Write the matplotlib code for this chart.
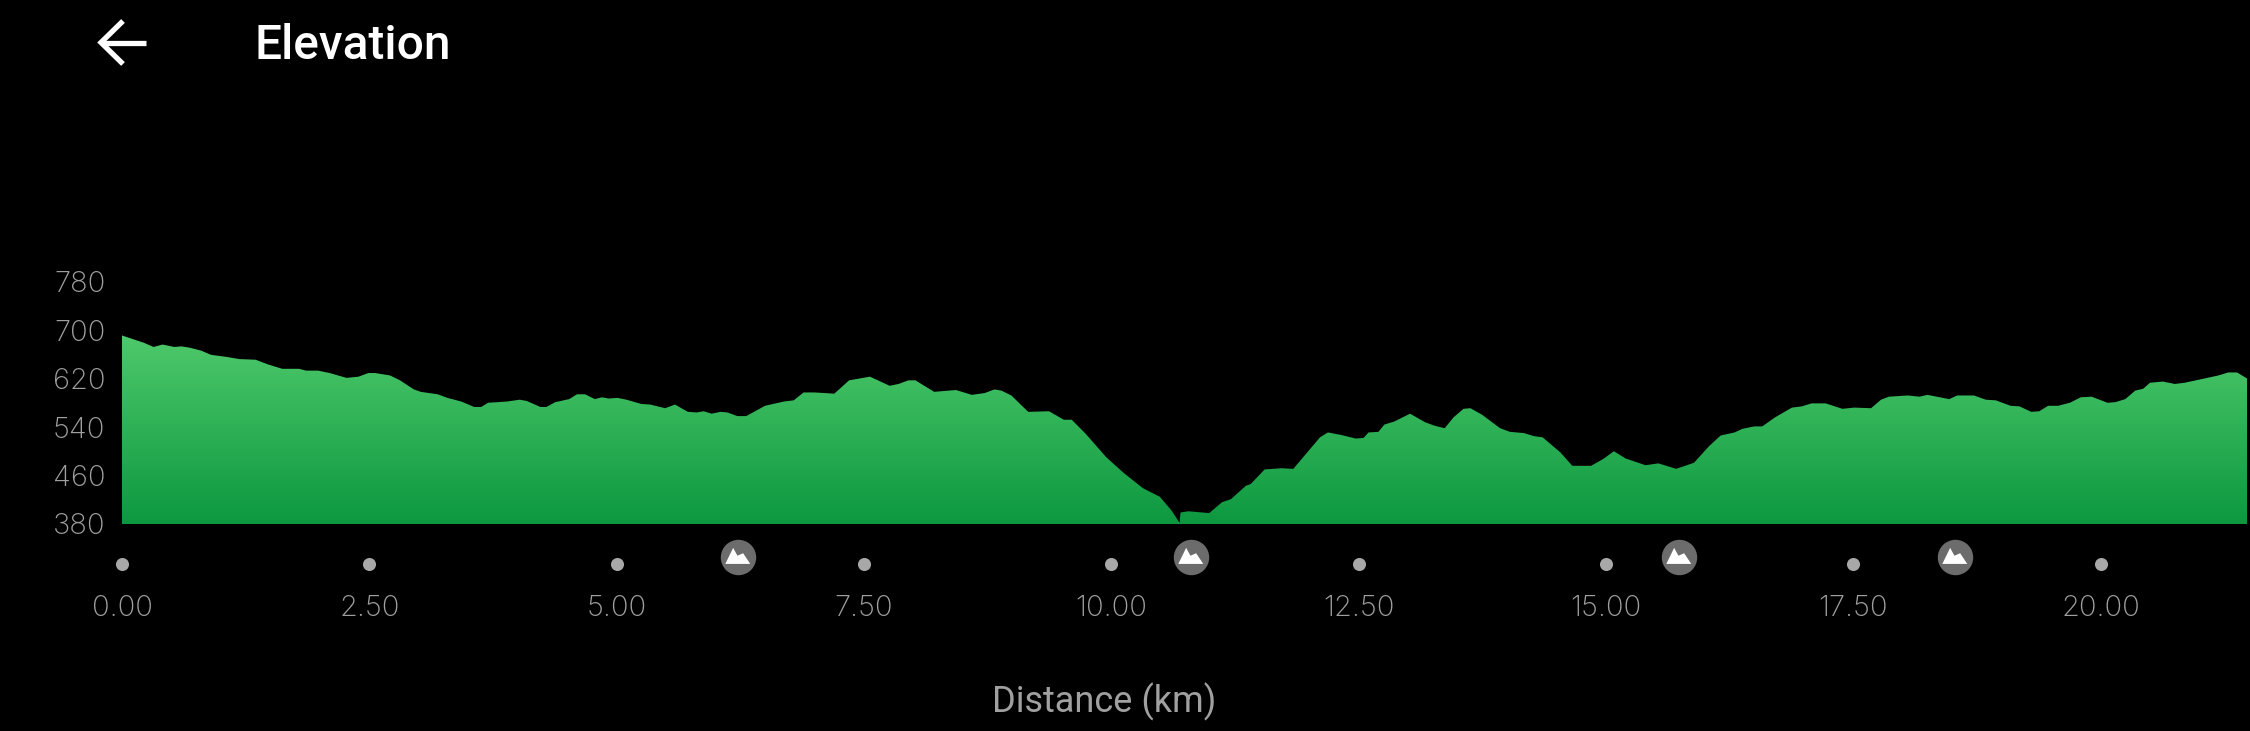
import numpy as np
import matplotlib
matplotlib.use("Agg")
import matplotlib.pyplot as plt
from matplotlib.colors import LinearSegmentedColormap
from matplotlib.lines import Line2D
from matplotlib.path import Path
from matplotlib.transforms import blended_transform_factory

# profile
distance_km = [
    0.00, 0.22, 0.32, 0.41, 0.53, 0.60, 0.68, 0.80, 0.90, 1.04, 1.19, 1.35, 1.48, 1.62, 1.79, 1.86,
    1.98, 2.10, 2.27, 2.39, 2.49, 2.56, 2.71, 2.81, 2.95, 3.02, 3.19, 3.29, 3.43, 3.56, 3.63, 3.70,
    3.89, 4.02, 4.09, 4.23, 4.29, 4.38, 4.52, 4.60, 4.68, 4.78, 4.85, 4.92, 5.01, 5.10, 5.25, 5.34,
    5.49, 5.59, 5.72, 5.81, 5.88, 5.96, 6.05, 6.12, 6.22, 6.31, 6.50, 6.69, 6.79, 6.89, 7.00, 7.20,
    7.35, 7.56, 7.76, 7.85, 7.95, 8.02, 8.21, 8.43, 8.59, 8.72, 8.82, 8.89, 8.99, 9.16, 9.37, 9.52,
    9.60, 9.74, 9.95, 10.12, 10.32, 10.49, 10.61, 10.69, 10.70, 10.78, 10.99, 11.12, 11.21, 11.36,
    11.41, 11.55, 11.72, 11.84, 12.11, 12.19, 12.32, 12.47, 12.55, 12.60, 12.70, 12.76, 12.86, 13.02,
    13.17, 13.27, 13.37, 13.46, 13.56, 13.63, 13.75, 13.93, 14.03, 14.17, 14.27, 14.36, 14.54, 14.66,
    14.85, 14.97, 15.08, 15.20, 15.40, 15.53, 15.71, 15.89, 16.04, 16.16, 16.30, 16.38, 16.50, 16.58,
    16.71, 16.88, 16.98, 17.08, 17.22, 17.39, 17.51, 17.68, 17.78, 17.86, 18.05, 18.17, 18.25, 18.47,
    18.55, 18.72, 18.84, 18.94, 19.09, 19.18, 19.30, 19.38, 19.47, 19.57, 19.69, 19.80, 19.91, 20.07,
    20.15, 20.25, 20.35, 20.43, 20.50, 20.63, 20.75, 20.85, 21.05, 21.19, 21.29, 21.38, 21.48,
]
elevation_m = [
    691, 679, 672, 676, 672, 673, 671, 666, 659, 656, 652, 651, 643, 636, 636, 633,
    633, 629, 621, 623, 629, 629, 625, 617, 602, 598, 594, 588, 582, 573, 573, 580,
    582, 585, 583, 573, 573, 581, 586, 594, 594, 586, 589, 587, 588, 585, 578, 577,
    571, 577, 565, 564, 566, 562, 565, 564, 558, 558, 575, 582, 584, 597, 597, 595,
    617, 623, 608, 611, 617, 617, 598, 601, 593, 596, 602, 600, 592, 565, 566, 552,
    552, 529, 490, 465, 439, 425, 402, 382, 399, 401, 398, 416, 421, 443,
    446, 470, 472, 471, 523, 531, 527, 521, 522, 531, 532, 544, 549, 562,
    548, 542, 538, 556, 570, 571, 560, 538, 532, 530, 525, 523, 498, 476,
    476, 487, 500, 488, 477, 480, 471, 481, 508, 526, 531, 537, 541, 541,
    556, 572, 574, 579, 579, 570, 572, 571, 585, 590, 592, 590, 593, 586,
    592, 592, 585, 584, 575, 574, 565, 566, 575, 575, 580, 589, 590, 580,
    581, 586, 600, 603, 613, 615, 611, 613, 620, 625, 630, 630, 620,
]
x_ticks = [0.0, 2.5, 5.0, 7.5, 10.0, 12.5, 15.0, 17.5, 20.0]
y_ticks = [380, 460, 540, 620, 700, 780]
peak_km = [6.23, 10.81, 15.74, 18.53]

W, H = 2250, 731
GREY = "#a0a0a0"
NUM_FONT = "Inter"
BASE = 524.0

fig = plt.figure(figsize=(W / 100, H / 100), dpi=100, facecolor="black")
ax = fig.add_axes([122 / W, (H - BASE) / H, 2125 / W, 242.5 / H], facecolor="black")
ax.set_xlim(0, 21.48)
ax.set_ylim(380, 780)

# gradient fill, clipped to the profile
area = ax.fill_between(distance_km, elevation_m, 380, color="none", linewidth=0)
green = LinearSegmentedColormap.from_list("g", ["#4ec96b", "#0d9840"])
grad = ax.imshow(np.linspace(0, 1, 256).reshape(-1, 1), cmap=green, aspect="auto",
                 extent=[0, 21.48, 380, max(elevation_m)], origin="upper", zorder=2)
grad.set_clip_path(area.get_paths()[0], transform=ax.transData)
ax.set_xlim(0, 21.48)
ax.set_ylim(380, 780)

for s in ax.spines.values():
    s.set_visible(False)
ax.set_xticks(x_ticks, [f"{v:.2f}" for v in x_ticks])
ax.set_yticks(y_ticks, [str(v) for v in y_ticks])
ax.tick_params(axis="x", length=0, pad=51, labelcolor=GREY, labelsize=21)
ax.tick_params(axis="y", length=0, pad=12, labelcolor=GREY, labelsize=21)
for lab in ax.get_xticklabels() + ax.get_yticklabels():
    lab.set_family(NUM_FONT)
    lab.set_fontweight("light")

ax.set_xlabel("Distance (km)", color=GREY, fontsize=26, family="Roboto")
ax.xaxis.set_label_coords((1104 - 122) / 2125, -(702 - BASE) / 242.5, transform=ax.transAxes)
ax.xaxis.label.set_verticalalignment("center")

# dots under the ticks and peak badges
trans = blended_transform_factory(ax.transData, ax.transAxes)
dot_y = -(564 - BASE) / 242.5
peak_y = -(557 - BASE) / 242.5
ax.plot(x_ticks, [dot_y] * len(x_ticks), "o", color="#a8a8a8", ms=9.4, mew=0,
        transform=trans, clip_on=False)
ax.plot(peak_km, [peak_y] * len(peak_km), "o", color="#6c6c6c", ms=25.5, mew=0,
        transform=trans, clip_on=False)
mountain = Path([(-37, -18), (-15, 27), (-3, 5), (13, 12), (33, -18), (-37, -18)],
                [Path.MOVETO] + [Path.LINETO] * 4 + [Path.CLOSEPOLY])
ax.plot(peak_km, [peak_y] * len(peak_km), linestyle="none", marker=mountain, color="white",
        ms=19, mew=0, transform=trans, clip_on=False)

# header
fig.text(255 / W, 1 - 46 / H, "Elevation", color="white", fontsize=34.5, family="Roboto",
         fontweight="medium", va="center", ha="left")
for xs, ys in [((101, 146), (42.5, 42.5)), ((123, 101, 123), (21, 42.5, 64))]:
    fig.add_artist(Line2D([v / W for v in xs], [1 - v / H for v in ys], color="white", lw=3.8,
                          solid_joinstyle="miter", solid_capstyle="butt", transform=fig.transFigure))

fig.savefig("out.png", dpi=100, facecolor="black")
